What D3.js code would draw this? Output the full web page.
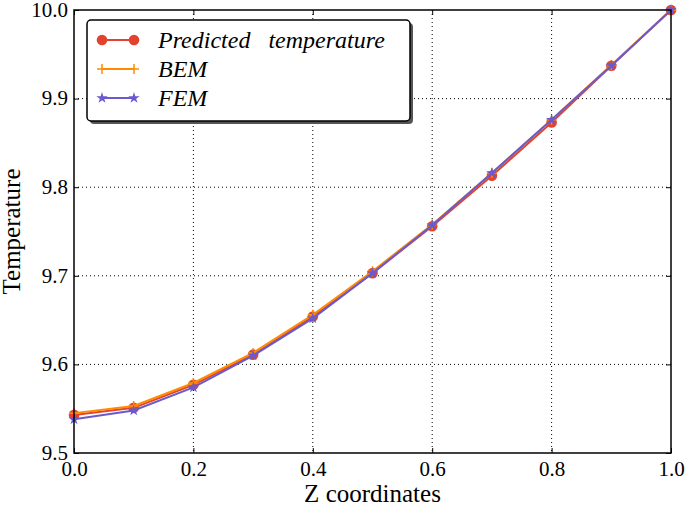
<!DOCTYPE html>
<html><head><meta charset="utf-8">
<script src="https://cdn.jsdelivr.net/npm/d3@7"></script>
<style>body{margin:0;background:#fff}svg{display:block}</style>
</head><body>
<svg id="c" width="685" height="505"></svg>
<script>
const zCoords = [0.0,0.1,0.2,0.3,0.4,0.5,0.6,0.7,0.8,0.9,1.0];
const predicted = [9.543,9.551,9.577,9.611,9.654,9.703,9.756,9.813,9.873,9.937,10.0];
const bem       = [9.545,9.553,9.579,9.613,9.656,9.705,9.758,9.816,9.876,9.938,10.0];
const fem       = [9.538,9.548,9.574,9.610,9.652,9.703,9.757,9.816,9.876,9.937,10.0];
const xTicks = [0.0,0.2,0.4,0.6,0.8,1.0];
const yTicks = [9.5,9.6,9.7,9.8,9.9,10.0];
const seriesNames = ["Predicted   temperature","BEM","FEM"];
const seriesColors = ["#e2432e","#ff8c00","#6a5acd"];

const FONT = "Liberation Serif";
const svg = d3.select("#c");
const L=74,R=671,T=10,B=453;
const x = d3.scaleLinear().domain([0,1]).range([L,R]);
const y = d3.scaleLinear().domain([9.5,10.0]).range([B,T]);

// grid
const g = svg.append("g");
xTicks.slice(1,-1).forEach(v=>g.append("line").attr("x1",x(v)).attr("x2",x(v)).attr("y1",T).attr("y2",B)
  .attr("stroke","#000").attr("stroke-width",1).attr("stroke-dasharray","1,3"));
yTicks.slice(1,-1).forEach(v=>g.append("line").attr("y1",y(v)).attr("y2",y(v)).attr("x1",L).attr("x2",R)
  .attr("stroke","#000").attr("stroke-width",1).attr("stroke-dasharray","1,3"));

// axes with inward ticks
const ax = (axis, tr)=>svg.append("g").attr("transform",tr).call(axis);
const fmt = d3.format(".1f");
const xb = ax(d3.axisBottom(x).tickValues(xTicks).tickFormat(fmt).tickSizeInner(-5).tickSizeOuter(0).tickPadding(8),`translate(0,${B})`);
const xt = ax(d3.axisTop(x).tickValues(xTicks).tickFormat("").tickSizeInner(-5).tickSizeOuter(0),`translate(0,${T})`);
const yl = ax(d3.axisLeft(y).tickValues(yTicks).tickFormat(fmt).tickSizeInner(-5).tickSizeOuter(0).tickPadding(6),`translate(${L},0)`);
const yr = ax(d3.axisRight(y).tickValues(yTicks).tickFormat("").tickSizeInner(-5).tickSizeOuter(0),`translate(${R},0)`);
[xb,xt,yl,yr].forEach(a=>{a.attr("font-family",FONT).attr("font-size",21);
  a.select(".domain").remove();a.selectAll("line").attr("stroke","#000");
  a.selectAll("text").attr("fill","#000");});
xb.selectAll("text").attr("dy","0.71em");
yl.selectAll("text").attr("dy","0.3em");

// data
const data = [predicted,bem,fem];
const line = d3.line().x((d,i)=>x(zCoords[i])).y(d=>y(d));
const star = d3.symbol().type(d3.symbolStar).size(40);
function marker(sel, k, cx, cy){
  if(k===0) sel.append("circle").attr("cx",cx).attr("cy",cy).attr("r",5.3).attr("fill",seriesColors[0]);
  else if(k===1) sel.append("path").attr("d",`M${cx-5},${cy}H${cx+5}M${cx},${cy-5}V${cy+5}`).attr("stroke",seriesColors[1]).attr("stroke-width",1.5).attr("fill","none");
  else sel.append("path").attr("d",star).attr("transform",`translate(${cx},${cy})`).attr("fill",seriesColors[2]);
}
const plot = svg.append("g");
data.forEach((s,k)=>{
  plot.append("path").datum(s).attr("d",line).attr("fill","none").attr("stroke",seriesColors[k]).attr("stroke-width",2);
  s.forEach((v,i)=>marker(plot,k,x(zCoords[i]),y(v)));
});

// frame
svg.append("rect").attr("x",L).attr("y",T).attr("width",R-L).attr("height",B-T).attr("fill","none").attr("stroke","#000").attr("stroke-width",1.5);

// legend
const lg = svg.append("g");
lg.append("rect").attr("x",90).attr("y",23).attr("width",323).attr("height",101).attr("rx",4).attr("fill","#555");
lg.append("rect").attr("x",87).attr("y",20).attr("width",323).attr("height",101).attr("rx",4).attr("fill","#fff").attr("stroke","#000").attr("stroke-width",1.5);
const rows=[40,69,98];
rows.forEach((ry,k)=>{
  lg.append("line").attr("x1",102).attr("x2",134).attr("y1",ry).attr("y2",ry).attr("stroke",seriesColors[k]).attr("stroke-width",2);
  marker(lg,k,102,ry); marker(lg,k,134,ry);
  lg.append("text").attr("x",158).attr("y",ry).attr("dy","0.33em").attr("font-family",FONT).attr("font-style","italic")
    .attr("font-size",24).style("white-space","pre").text(seriesNames[k]);
});

// axis labels
svg.append("text").attr("x",(L+R)/2).attr("y",502).attr("text-anchor","middle").attr("font-family",FONT).attr("font-size",25).text("Z coordinates");
svg.append("text").attr("transform",`translate(20,${(T+B)/2}) rotate(-90)`).attr("text-anchor","middle").attr("font-family",FONT).attr("font-size",25).text("Temperature");
</script>
</body></html>
